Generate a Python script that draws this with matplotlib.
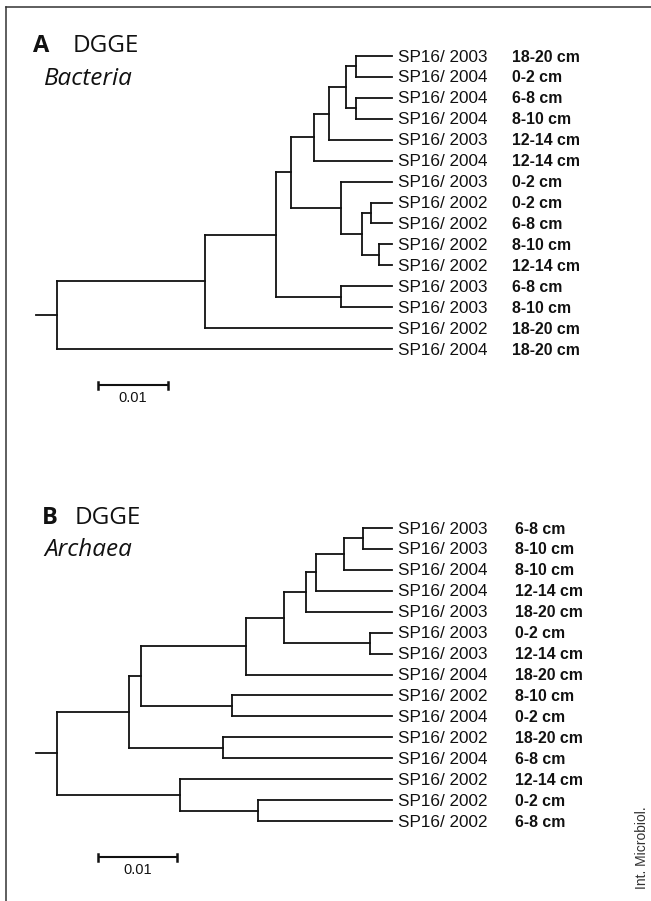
import matplotlib
matplotlib.use("Agg")
import matplotlib.pyplot as plt
from matplotlib.lines import Line2D

# ---------------- data ----------------
# Panel A: DGGE Bacteria
a_years = ["2003", "2004", "2004", "2004", "2003", "2004", "2003", "2002",
           "2002", "2002", "2002", "2003", "2003", "2002", "2004"]
a_depths = ["18-20 cm", "0-2 cm", "6-8 cm", "8-10 cm", "12-14 cm", "12-14 cm",
            "0-2 cm", "0-2 cm", "6-8 cm", "8-10 cm", "12-14 cm", "6-8 cm",
            "8-10 cm", "18-20 cm", "18-20 cm"]
# merges: (child_a, child_b, node distance from root); nodes numbered from 15
a_merges = [(0, 1, 0.0427), (2, 3, 0.0427), (15, 16, 0.0413), (17, 4, 0.0389),
            (18, 5, 0.0367), (7, 8, 0.0449), (9, 10, 0.0460), (20, 21, 0.0436),
            (6, 22, 0.0406), (19, 23, 0.0334), (11, 12, 0.0406), (24, 25, 0.0313),
            (26, 13, 0.0211), (27, 14, 0.0)]
a_tip = 0.0479

# Panel B: DGGE Archaea
b_years = ["2003", "2003", "2004", "2004", "2003", "2003", "2003", "2004",
           "2002", "2004", "2002", "2004", "2002", "2002", "2002"]
b_depths = ["6-8 cm", "8-10 cm", "8-10 cm", "12-14 cm", "18-20 cm", "0-2 cm",
            "12-14 cm", "18-20 cm", "8-10 cm", "0-2 cm", "18-20 cm", "6-8 cm",
            "12-14 cm", "0-2 cm", "6-8 cm"]
b_merges = [(0, 1, 0.0387), (15, 2, 0.0363), (16, 3, 0.0328), (17, 4, 0.0315),
            (5, 6, 0.0396), (18, 19, 0.0287), (20, 7, 0.0239), (8, 9, 0.0222),
            (21, 22, 0.0106), (10, 11, 0.0210), (23, 24, 0.0091), (13, 14, 0.0254),
            (12, 26, 0.0156), (25, 27, 0.0)]
b_tip = 0.0424

scale_len = 0.01

# ---------------- layout ----------------
W, H = 651, 901
fig = plt.figure(figsize=(W / 100, H / 100), dpi=100)
LW = 1.3
COL = "#111111"
SANS = ["Liberation Sans", "DejaVu Sans"]
TITLE = ["Open Sans", "DejaVu Sans"]


def make_axes(top_px, bot_px, root_px, px_per_unit, leaf0_px, px_per_leaf):
    ax = fig.add_axes([0, 1 - bot_px / H, 1, (bot_px - top_px) / H])
    ax.set_xlim(-root_px / px_per_unit, (W - root_px) / px_per_unit)
    ax.set_ylim((bot_px - leaf0_px) / px_per_leaf, (top_px - leaf0_px) / px_per_leaf)
    ax.axis("off")
    return ax


def draw_tree(ax, years, depths, merges, tip, stub, ppu, x_name_px, x_depth_px):
    n = len(years)
    ypos = {i: float(i) for i in range(n)}
    xpos = {i: tip for i in range(n)}
    kw = dict(color=COL, lw=LW, solid_capstyle="projecting")
    for k, (a, b, h) in enumerate(merges):
        node = n + k
        for c in (a, b):
            ax.plot([h, xpos[c]], [ypos[c], ypos[c]], **kw)
        ax.plot([h, h], [ypos[a], ypos[b]], **kw)
        ypos[node] = (ypos[a] + ypos[b]) / 2
        xpos[node] = h
    root = n + len(merges) - 1
    ax.plot([-stub, 0], [ypos[root], ypos[root]], **kw)
    for i in range(n):
        ax.text(tip + x_name_px / ppu, i + 0.05, "SP16/ " + years[i], fontsize=12.3,
                family=SANS, va="center", ha="left", color=COL)
        ax.text(tip + x_depth_px / ppu, i + 0.05, depths[i], fontsize=11.4,
                family=SANS, fontweight="bold", va="center", ha="left", color=COL)


def scale_bar(ax, x0, y, ppl):
    kw = dict(color=COL, lw=LW + 0.2, solid_capstyle="butt")
    ax.plot([x0, x0 + scale_len], [y, y], **kw)
    t = 3.5 / ppl
    for xx in (x0, x0 + scale_len):
        ax.plot([xx, xx], [y - t, y + t], color=COL, lw=1.8)
    ax.text(x0 + scale_len / 2, y + 0.6, "0.01", fontsize=10.5, family=SANS,
            ha="center", va="center", color=COL)


PPL = 20.93
# panel A
ppu_a = 7000.0
ax_a = make_axes(0, 450, 57, ppu_a, 56, PPL)
draw_tree(ax_a, a_years, a_depths, a_merges, a_tip, 21 / ppu_a, ppu_a, 6, 120)
scale_bar(ax_a, 41 / ppu_a, (385 - 56) / PPL, PPL)

# panel B
ppu_b = 7900.0
ax_b = make_axes(450, 901, 57, ppu_b, 528, PPL)
draw_tree(ax_b, b_years, b_depths, b_merges, b_tip, 21 / ppu_b, ppu_b, 6, 123)
scale_bar(ax_b, 41 / ppu_b, (857 - 528) / PPL, PPL)


def ftext(x, y, s, **kw):
    fig.text(x / W, 1 - y / H, s, **kw)


ftext(33, 46, "A", fontsize=17, fontweight="bold", family=TITLE, va="center", color=COL)
ftext(73, 46, "DGGE", fontsize=17.5, family=TITLE, va="center", color=COL)
ftext(44, 79, "Bacteria", fontsize=17.5, style="italic", family=TITLE, va="center", color=COL)
ftext(42, 518, "B", fontsize=17, fontweight="bold", family=TITLE, va="center", color=COL)
ftext(75, 518, "DGGE", fontsize=17.5, family=TITLE, va="center", color=COL)
ftext(44, 550, "Archaea", fontsize=17.5, style="italic", family=TITLE, va="center", color=COL)
ftext(642, 848, "Int. Microbiol.", fontsize=10, family=SANS, rotation=90,
      ha="center", va="center", color="#333333")

# frame (left and top edges)
fig.add_artist(Line2D([6 / W, 6 / W], [0, 1 - 7 / H], color="#333333", lw=1.1,
                      transform=fig.transFigure))
fig.add_artist(Line2D([6 / W, 1], [1 - 7 / H, 1 - 7 / H], color="#333333", lw=1.1,
                      transform=fig.transFigure))

fig.savefig("out.png", dpi=100)
